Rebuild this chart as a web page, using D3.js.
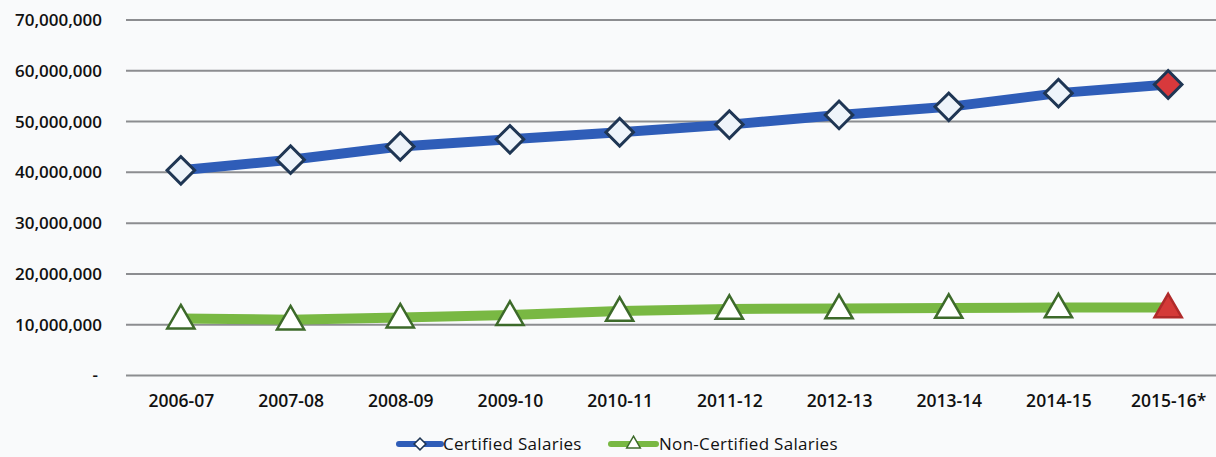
<!DOCTYPE html>
<html>
<head>
<meta charset="utf-8">
<script src="https://cdn.jsdelivr.net/npm/d3@7/dist/d3.min.js"></script>
<style>
  html, body { margin: 0; padding: 0; background: #f9fafb; }
  svg { display: block; }
  text { font-family: "Open Sans", "DejaVu Sans", sans-serif; fill: #111; }
</style>
</head>
<body>
<svg id="chart" width="1216" height="457"></svg>
<script>
// School years shown along the x axis
const years = ["2006-07", "2007-08", "2008-09", "2009-10", "2010-11",
               "2011-12", "2012-13", "2013-14", "2014-15", "2015-16*"];

// Annual salary totals (dollars)
const certified = [40400000, 42500000, 45100000, 46500000, 47900000,
                   49400000, 51300000, 52900000, 55600000, 57300000];
const nonCertified = [11200000, 11000000, 11400000, 11900000, 12700000,
                      13100000, 13200000, 13300000, 13400000, 13400000];

// Y axis ticks
const yTicks = [0, 10000000, 20000000, 30000000, 40000000, 50000000, 60000000, 70000000];

const svg = d3.select("#chart");
const plotLeft = 126, plotRight = 1223, plotTop = 20, plotBottom = 375.5;

const x = d3.scalePoint().domain(years).range([plotLeft, plotRight]).padding(0.5);
const y = d3.scaleLinear().domain([0, 70000000]).range([plotBottom, plotTop]);

// Horizontal gridlines
svg.append("g")
  .selectAll("line")
  .data(yTicks)
  .join("line")
  .attr("x1", plotLeft).attr("x2", plotRight)
  .attr("y1", d => y(d)).attr("y2", d => y(d))
  .attr("stroke", "#8c8d90").attr("stroke-width", 2);

// Y axis labels
const fmt = d3.format(",");
const yAxis = d3.axisLeft(y).tickValues(yTicks).tickSize(0).tickPadding(0)
  .tickFormat(d => d === 0 ? "-" : fmt(d));
const gy = svg.append("g").attr("transform", "translate(102,0)").call(yAxis);
gy.select(".domain").remove();
gy.selectAll("text")
  .style("font-family", "'Open Sans', sans-serif")
  .style("font-size", "17px").style("font-weight", "600").attr("fill", "#111")
  .attr("dx", d => d === 0 ? "-4px" : "0");

// X axis labels
const xAxis = d3.axisBottom(x).tickSize(0).tickPadding(0);
const gx = svg.append("g").attr("transform", "translate(0,395)").call(xAxis);
gx.select(".domain").remove();
gx.selectAll("text")
  .style("font-family", "'Open Sans', sans-serif")
  .style("font-size", "17.5px").style("font-weight", "600").attr("fill", "#111");

const line = d3.line().x((d, i) => x(years[i])).y(d => y(d));

// Series lines
svg.append("path").datum(nonCertified).attr("d", line)
  .attr("fill", "none").attr("stroke", "#79b843").attr("stroke-width", 10)
  .attr("stroke-linejoin", "round");
svg.append("path").datum(certified).attr("d", line)
  .attr("fill", "none").attr("stroke", "#2f5db8").attr("stroke-width", 10)
  .attr("stroke-linejoin", "round");

const last = years.length - 1;
const diamond = d3.symbol().type(d3.symbolSquare).size(380);
const triangle = d3.symbol().type(d3.symbolTriangle).size(320);

// Certified markers (diamonds), projected year highlighted in red
svg.append("g").selectAll("path")
  .data(certified)
  .join("path")
  .attr("d", diamond)
  .attr("transform", (d, i) => `translate(${x(years[i])},${y(d)}) rotate(45)`)
  .attr("fill", (d, i) => i === last ? "#d8393c" : "#eef4fa")
  .attr("stroke", "#1f3654").attr("stroke-width", 3);

// Non-certified markers (triangles)
svg.append("g").selectAll("path")
  .data(nonCertified)
  .join("path")
  .attr("d", triangle)
  .attr("transform", (d, i) => `translate(${x(years[i])},${y(d) + 2})`)
  .attr("fill", (d, i) => i === last ? "#d43a38" : "#ffffff")
  .attr("stroke", (d, i) => i === last ? "#b02a2a" : "#3d6a2a").attr("stroke-width", 2.5);

// Legend
const legend = svg.append("g").attr("transform", "translate(0,444)");
const items = [
  { label: "Certified Salaries", color: "#2f5db8", x: 399, w: 42, tx: 443, marker: "diamond" },
  { label: "Non-Certified Salaries", color: "#79b843", x: 611, w: 45, tx: 659, marker: "triangle" }
];
items.forEach(it => {
  legend.append("line")
    .attr("x1", it.x).attr("x2", it.x + it.w).attr("y1", 0).attr("y2", 0)
    .attr("stroke", it.color).attr("stroke-width", 6).attr("stroke-linecap", "round");
  if (it.marker === "diamond") {
    legend.append("path").attr("d", d3.symbol().type(d3.symbolSquare).size(70))
      .attr("transform", `translate(${it.x + it.w / 2},0) rotate(45)`)
      .attr("fill", "#ffffff").attr("stroke", "#1f3654").attr("stroke-width", 1.5);
  } else {
    legend.append("path").attr("d", d3.symbol().type(d3.symbolTriangle).size(80))
      .attr("transform", `translate(${it.x + it.w / 2},0)`)
      .attr("fill", "#ffffff").attr("stroke", "#3d6a2a").attr("stroke-width", 1.5);
  }
  legend.append("text").attr("x", it.tx).attr("y", 6)
    .style("font-size", "17px").style("letter-spacing", "0.3px").text(it.label);
});
</script>
</body>
</html>
